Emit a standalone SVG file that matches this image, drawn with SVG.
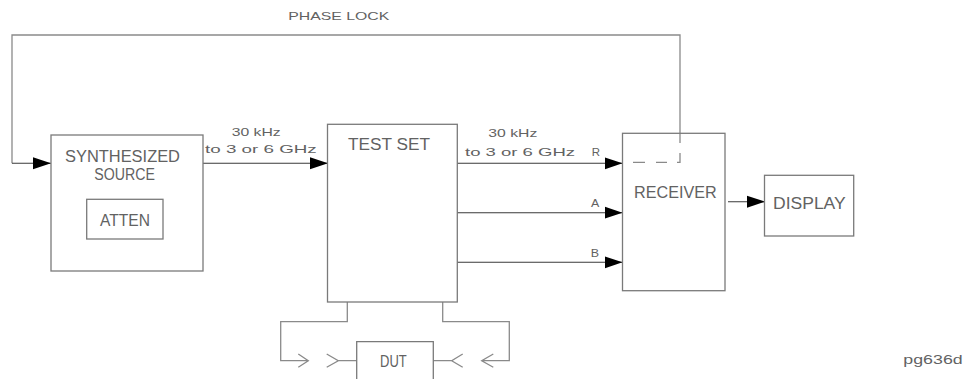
<svg xmlns="http://www.w3.org/2000/svg" width="970" height="379" viewBox="0 0 970 379">
<style>
.box{fill:none;stroke:#7a7a7a;stroke-width:1.3}
.wire{fill:none;stroke:#3a3a3a;stroke-width:1.1}
.gw{fill:none;stroke:#8a8a8a;stroke-width:1.3}
.t{font-family:"Liberation Sans",Arial,sans-serif;fill:#626262;font-size:16.3px}
.s{font-family:"Liberation Sans",Arial,sans-serif;fill:#626262;font-size:11.8px}
</style>
<defs>
<marker id="ah" markerUnits="userSpaceOnUse" markerWidth="19" markerHeight="13" viewBox="0 -6.5 19 13" refX="18" refY="0" orient="auto">
<path d="M0,-6 L18,0 L0,6 z" fill="#000"/>
</marker>
</defs>

<g id="connectors">
<path class="gw" d="M680,143 V35 H12 V163.3" />
<path class="wire" d="M12,163.3 H51" marker-end="url(#ah)"/>
<path class="gw" d="M680,153 V162.3 H677 M667,162.3 H656 M645,162.3 H633"/>
<path class="wire" d="M203,163.3 H328" marker-end="url(#ah)"/>
<path class="wire" d="M457,163.3 H622.5" marker-end="url(#ah)"/>
<path class="wire" d="M457,212.7 H622.5" marker-end="url(#ah)"/>
<path class="wire" d="M457,262.3 H622.5" marker-end="url(#ah)"/>
<path class="wire" d="M728,201.7 H765" marker-end="url(#ah)"/>
<path class="gw" d="M347.3,302 V321.7 H280.7 V360.7 H308.3 M298.3,354 L308.3,360.7 L298.3,367.3"/>
<path class="gw" d="M326.7,354 L338.3,360.7 L326.7,367.3 M338.3,360.7 H356.7"/>
<path class="gw" d="M442.7,302 V321.7 H509.3 V360.7 H481.7 M493.3,354 L481.7,360.7 L493.3,367.3"/>
<path class="gw" d="M462.7,354 L451.7,360.7 L462.7,367.3 M451.7,360.7 H433.3"/>
</g>

<g id="phase-lock-label">
<text class="s" x="288.3" y="19.5" textLength="101" lengthAdjust="spacingAndGlyphs">PHASE LOCK</text>
</g>

<g id="source">
<rect class="box" x="51" y="135" width="152" height="136"/>
<text class="t" x="65" y="162" textLength="115" lengthAdjust="spacingAndGlyphs">SYNTHESIZED</text>
<text class="t" x="94.3" y="180" textLength="60.7" lengthAdjust="spacingAndGlyphs">SOURCE</text>
</g>

<g id="atten">
<rect class="box" x="86.7" y="199.3" width="76.3" height="39.7"/>
<text class="t" x="100" y="226" textLength="50" lengthAdjust="spacingAndGlyphs">ATTEN</text>
</g>

<g id="source-label">
<text class="s" x="231.7" y="136" textLength="49" lengthAdjust="spacingAndGlyphs">30 kHz</text>
<text class="s" x="205" y="153.3" textLength="111.7" lengthAdjust="spacingAndGlyphs">to 3 or 6 GHz</text>
</g>

<g id="testset">
<rect class="box" x="327.5" y="124.3" width="129.8" height="177.7"/>
<text class="t" x="348" y="150" textLength="82" lengthAdjust="spacingAndGlyphs">TEST SET</text>
</g>

<g id="testset-labels">
<text class="s" x="488.3" y="137.3" textLength="49" lengthAdjust="spacingAndGlyphs">30 kHz</text>
<text class="s" x="465" y="156" textLength="110" lengthAdjust="spacingAndGlyphs">to 3 or 6 GHz</text>
<text class="s" x="591.7" y="156" textLength="8.3" lengthAdjust="spacingAndGlyphs">R</text>
<text class="s" x="591" y="207.3" textLength="8.3" lengthAdjust="spacingAndGlyphs">A</text>
<text class="s" x="590.7" y="256.7" textLength="8.3" lengthAdjust="spacingAndGlyphs">B</text>
</g>

<g id="receiver">
<rect class="box" x="622.5" y="133.3" width="102.5" height="157.4"/>
<text class="t" x="634" y="198.3" textLength="82.7" lengthAdjust="spacingAndGlyphs">RECEIVER</text>
</g>

<g id="display">
<rect class="box" x="764.5" y="175.3" width="89.2" height="60.7"/>
<text class="t" x="773" y="208.7" textLength="72.7" lengthAdjust="spacingAndGlyphs">DISPLAY</text>
</g>

<g id="dut">
<path class="box" d="M356.7,380 V341.7 H433.3 V380"/>
<text class="t" x="380" y="367.3" textLength="26.7" lengthAdjust="spacingAndGlyphs">DUT</text>
</g>

<g id="figure-id">
<text class="s" x="903.3" y="364" textLength="59.4" lengthAdjust="spacingAndGlyphs" style="font-size:12.5px">pg636d</text>
</g>
</svg>
